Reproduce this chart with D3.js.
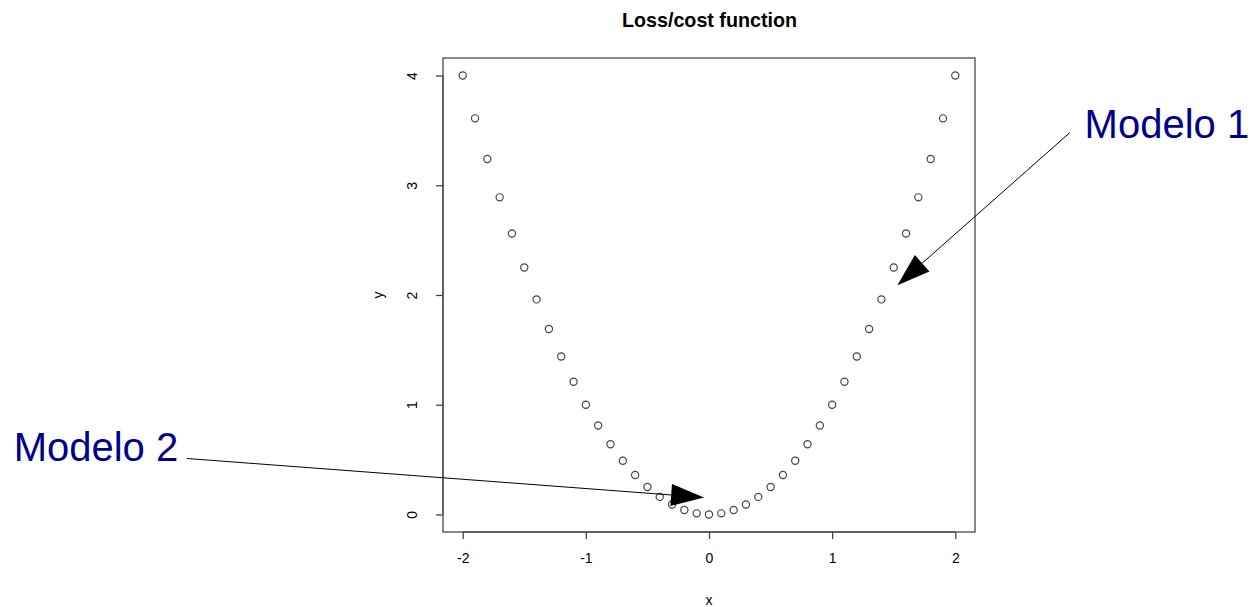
<!DOCTYPE html>
<html><head><meta charset="utf-8">
<script src="https://cdn.jsdelivr.net/npm/d3@7"></script>
<style>
html,body{margin:0;padding:0;background:#fff;}
svg{display:block;font-family:"Liberation Sans",Arial,sans-serif;}
</style></head>
<body>
<svg id="chart" width="1253" height="607"></svg>
<script>
const title = "Loss/cost function";
const xLabel = "x";
const yLabel = "y";
const xValues = [-2.0,-1.9,-1.8,-1.7,-1.6,-1.5,-1.4,-1.3,-1.2,-1.1,-1.0,-0.9,-0.8,-0.7,-0.6,-0.5,-0.4,-0.3,-0.2,-0.1,0.0,0.1,0.2,0.3,0.4,0.5,0.6,0.7,0.8,0.9,1.0,1.1,1.2,1.3,1.4,1.5,1.6,1.7,1.8,1.9,2.0];
const yValues = [4.00,3.61,3.24,2.89,2.56,2.25,1.96,1.69,1.44,1.21,1.00,0.81,0.64,0.49,0.36,0.25,0.16,0.09,0.04,0.01,0.00,0.01,0.04,0.09,0.16,0.25,0.36,0.49,0.64,0.81,1.00,1.21,1.44,1.69,1.96,2.25,2.56,2.89,3.24,3.61,4.00];
const xTicks = [-2,-1,0,1,2];
const yTicks = [0,1,2,3,4];
// annotations in data coordinates
const annLabels = ["Modelo 1","Modelo 2"];
const annTextX = [3.05,-4.31];
const annTextY = [3.43,0.49];
const annAnchor = ["start","end"];
const arrowFromX = [2.93,-4.24];
const arrowFromY = [3.48,0.51];
const arrowToX = [1.53,-0.04];
const arrowToY = [2.09,0.155];

const svg = d3.select("#chart");
const box = {left:443, right:975, top:58, bottom:532};
const x = d3.scaleLinear().domain([-2.16,2.16]).range([box.left,box.right]);
const y = d3.scaleLinear().domain([-0.16,4.16]).range([box.bottom,box.top]);
const axisCol = "#3a3a3a";

// box
svg.append("rect").attr("x",box.left).attr("y",box.top)
  .attr("width",box.right-box.left).attr("height",box.bottom-box.top)
  .attr("fill","none").attr("stroke",axisCol).attr("stroke-width",1.2);

// x axis
const xa = svg.append("g").attr("transform",`translate(0,${box.bottom})`)
  .call(d3.axisBottom(x).tickValues(xTicks).tickSize(7).tickPadding(14).tickFormat(d3.format("d")));
xa.select(".domain").attr("stroke",axisCol).attr("d",`M${x(-2)},0H${x(2)}`);
xa.selectAll(".tick line").attr("stroke",axisCol).attr("stroke-width",1.2);
xa.selectAll(".tick text").attr("font-size",14).attr("fill","#000")
  .attr("font-family","Liberation Sans, Arial, sans-serif").text(d=>d<0?"-"+Math.abs(d):d);

// y axis
const ya = svg.append("g").attr("transform",`translate(${box.left},0)`)
  .call(d3.axisLeft(y).tickValues(yTicks).tickSize(7).tickFormat(d3.format("d")));
ya.select(".domain").attr("stroke",axisCol).attr("d",`M0,${y(0)}V${y(4)}`);
ya.selectAll(".tick line").attr("stroke",axisCol).attr("stroke-width",1.2);
ya.selectAll(".tick text").remove();
ya.selectAll(".tick").append("text")
  .attr("transform","translate(-31,0) rotate(-90)")
  .attr("text-anchor","middle").attr("dy","0.35em")
  .attr("font-size",14).attr("fill","#000")
  .attr("font-family","Liberation Sans, Arial, sans-serif")
  .text(d=>d);

// title & axis labels
svg.append("text").attr("x",709.5).attr("y",27)
  .attr("text-anchor","middle").attr("font-weight","bold").attr("font-size",19.7)
  .text(title);
svg.append("text").attr("x",(box.left+box.right)/2).attr("y",605)
  .attr("text-anchor","middle").attr("font-size",14).text(xLabel);
svg.append("text").attr("transform",`translate(383,${(box.top+box.bottom)/2}) rotate(-90)`)
  .attr("text-anchor","middle").attr("font-size",14).text(yLabel);

// points
svg.append("g").selectAll("circle").data(xValues).join("circle")
  .attr("cx",(d)=>x(d)).attr("cy",(d,i)=>y(yValues[i])).attr("r",3.6)
  .attr("fill","none").attr("stroke","#444").attr("stroke-width",1.2);

// annotations
annLabels.forEach((lab,i)=>{
  svg.append("text").attr("x",x(annTextX[i])).attr("y",y(annTextY[i]))
    .attr("text-anchor",annAnchor[i]).attr("font-size",40).attr("fill","#00008B").text(lab);
  const x1=x(arrowFromX[i]), y1=y(arrowFromY[i]), x2=x(arrowToX[i]), y2=y(arrowToY[i]);
  const ang=Math.atan2(y2-y1,x2-x1), L=33, W=11;
  const bx=x2-L*Math.cos(ang), by=y2-L*Math.sin(ang);
  svg.append("line").attr("x1",x1).attr("y1",y1).attr("x2",bx).attr("y2",by)
    .attr("stroke","#000").attr("stroke-width",1);
  const px=-Math.sin(ang), py=Math.cos(ang);
  svg.append("polygon").attr("points",
    `${x2},${y2} ${bx+W*px},${by+W*py} ${bx-W*px},${by-W*py}`).attr("fill","#000");
});
</script>
</body></html>
